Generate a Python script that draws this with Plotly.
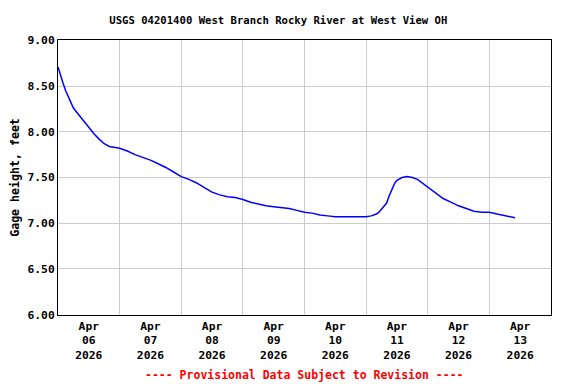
import plotly.graph_objects as go

times = [
    "2026-04-06 00:00", "2026-04-06 01:00", "2026-04-06 02:00", "2026-04-06 03:00",
    "2026-04-06 04:00", "2026-04-06 05:00", "2026-04-06 06:00", "2026-04-06 08:00",
    "2026-04-06 10:00", "2026-04-06 12:00", "2026-04-06 14:00", "2026-04-06 16:00",
    "2026-04-06 18:00", "2026-04-06 20:00", "2026-04-06 22:00", "2026-04-07 00:00",
    "2026-04-07 03:00", "2026-04-07 06:00", "2026-04-07 09:00", "2026-04-07 12:00",
    "2026-04-07 15:00", "2026-04-07 18:00", "2026-04-07 21:00", "2026-04-08 00:00",
    "2026-04-08 03:00", "2026-04-08 06:00", "2026-04-08 09:00", "2026-04-08 12:00",
    "2026-04-08 15:00", "2026-04-08 18:00", "2026-04-08 21:00", "2026-04-09 00:00",
    "2026-04-09 03:00", "2026-04-09 06:00", "2026-04-09 09:00", "2026-04-09 12:00",
    "2026-04-09 15:00", "2026-04-09 18:00", "2026-04-09 21:00", "2026-04-10 00:00",
    "2026-04-10 03:00", "2026-04-10 06:00", "2026-04-10 09:00", "2026-04-10 12:00",
    "2026-04-10 15:00", "2026-04-10 18:00", "2026-04-10 21:00", "2026-04-11 00:00",
    "2026-04-11 02:00", "2026-04-11 04:00", "2026-04-11 05:00", "2026-04-11 06:00",
    "2026-04-11 07:00", "2026-04-11 08:00", "2026-04-11 09:00", "2026-04-11 10:00",
    "2026-04-11 11:00", "2026-04-11 12:00", "2026-04-11 14:00", "2026-04-11 16:00",
    "2026-04-11 18:00", "2026-04-11 20:00", "2026-04-11 22:00", "2026-04-12 00:00",
    "2026-04-12 02:00", "2026-04-12 04:00", "2026-04-12 06:00", "2026-04-12 09:00",
    "2026-04-12 12:00", "2026-04-12 15:00", "2026-04-12 18:00", "2026-04-12 21:00",
    "2026-04-13 00:00", "2026-04-13 03:00", "2026-04-13 06:00", "2026-04-13 08:00",
    "2026-04-13 10:00",
]
gage_height = [
    8.71, 8.61, 8.53, 8.45,
    8.39, 8.32, 8.26, 8.19,
    8.12, 8.04, 7.98, 7.92,
    7.87, 7.84, 7.83, 7.82,
    7.79, 7.75, 7.72, 7.69,
    7.65, 7.61, 7.56, 7.51,
    7.48, 7.44, 7.39, 7.34,
    7.31, 7.29, 7.28, 7.26,
    7.23, 7.21, 7.19, 7.18,
    7.17, 7.16, 7.14, 7.12,
    7.11, 7.09, 7.08, 7.07,
    7.07, 7.07, 7.07, 7.07,
    7.08, 7.10, 7.12, 7.15,
    7.18, 7.22, 7.30, 7.37,
    7.43, 7.47, 7.50, 7.51,
    7.50, 7.48, 7.44, 7.40,
    7.35, 7.31, 7.27, 7.23,
    7.19, 7.16, 7.13, 7.12,
    7.12, 7.10, 7.08, 7.07,
    7.06,
]

title_text = "USGS 04201400 West Branch Rocky River at West View OH"
y_title = "Gage height, feet"
footer_text = "---- Provisional Data Subject to Revision ----"

FONT = "DejaVu Sans Mono"

fig = go.Figure()
fig.add_trace(go.Scatter(
    x=times, y=gage_height, mode="lines",
    line=dict(color="#0000ff", width=1.5),
    showlegend=False,
))

# page body has an 8px default margin, so the figure is 8px smaller on each axis
fig.update_layout(
    width=568, height=376,
    margin=dict(l=50, r=25, t=32, b=69, autoexpand=False),
    paper_bgcolor="white", plot_bgcolor="white",
    font=dict(family=FONT, size=11, color="black", weight="bold"),
    title=dict(text=title_text, x=0.476, xref="container", xanchor="center",
               y=0.968, yref="container", yanchor="middle",
               font=dict(family=FONT, size=10.6, color="black", weight="bold")),
    xaxis=dict(
        type="date",
        range=["2026-04-06 00:00", "2026-04-14 00:00"],
        dtick=86400000, tick0="2026-04-06",
        ticklabelmode="period",
        tickformat="%b<br>%d<br>%Y",
        showgrid=True, gridcolor="#cccccc", gridwidth=1,
        showline=True, linecolor="black", linewidth=1, mirror=True,
        ticks="", zeroline=False, automargin=False,
        tickfont=dict(family=FONT, size=11.3, color="black", weight="bold"),
    ),
    yaxis=dict(
        range=[5.995, 9.005],
        dtick=0.5, tick0=6, tickformat=".2f",
        showgrid=True, gridcolor="#cccccc", gridwidth=1,
        showline=True, linecolor="black", linewidth=1, mirror=True,
        ticks="", zeroline=False, automargin=False,
        title=dict(text=y_title, standoff=6,
                   font=dict(family=FONT, size=11.6, color="black", weight="bold")),
        tickfont=dict(family=FONT, size=11.3, color="black", weight="bold"),
    ),
    annotations=[dict(
        text=footer_text, xref="paper", yref="paper",
        x=0.5, y=-0.218, xanchor="center", yanchor="middle", showarrow=False,
        font=dict(family=FONT, size=11.5, color="red", weight="bold"),
    )],
)

fig.write_html("out.html")
